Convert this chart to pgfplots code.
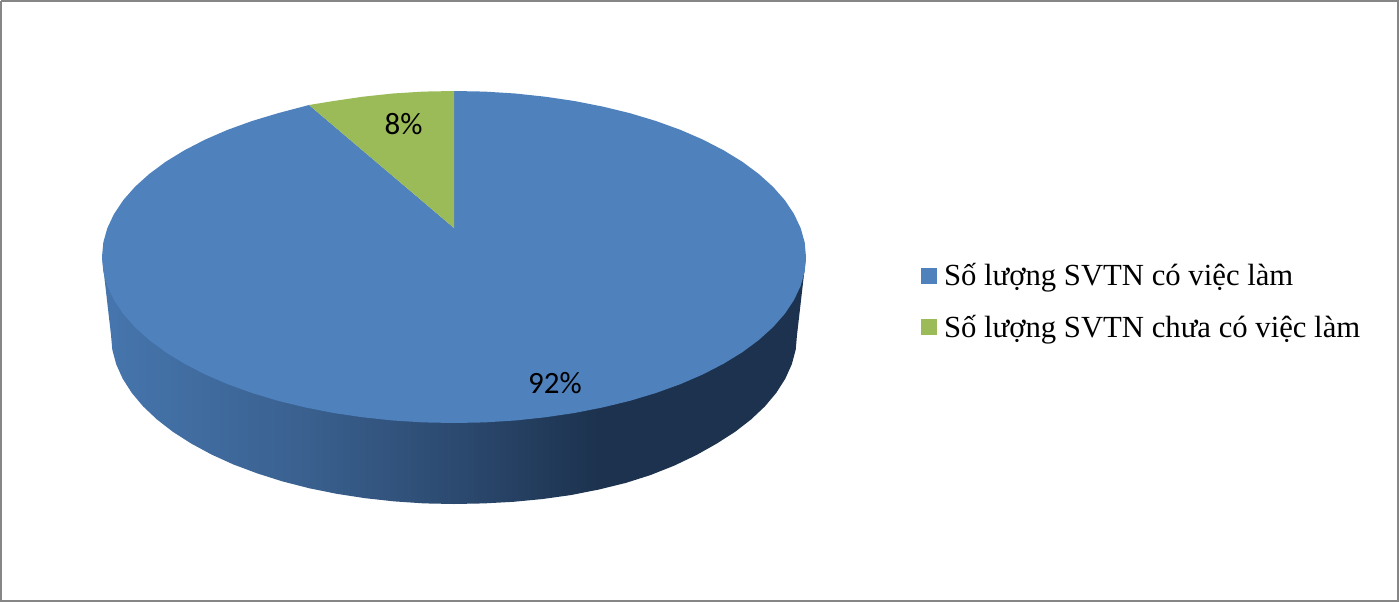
\documentclass[border=0pt]{standalone}
\usepackage{pgfplots}
\pgfplotsset{compat=1.18}
\usepackage{fontspec}
\setmainfont{Liberation Serif}
\newfontfamily\lab{Carlito}
\definecolor{pieblue}{HTML}{4F81BD}
\definecolor{piegreen}{HTML}{9BBB59}
\definecolor{frame}{HTML}{868686}
\definecolor{sa}{HTML}{4676AE}
\definecolor{sb}{HTML}{3A6190}
\definecolor{sc}{HTML}{2C4A70}
\definecolor{sd}{HTML}{1C324E}
\pgfdeclarehorizontalshading{sideshade}{100bp}{color(0bp)=(sa); color(25bp)=(sa); color(39bp)=(sb); color(50bp)=(sc); color(60.4bp)=(sd); color(100bp)=(sd)}
\begin{document}
\begin{tikzpicture}
\begin{axis}[
  width=1399pt, height=602pt, scale only axis,
  xmin=0, xmax=1399, ymin=0, ymax=602, y dir=reverse,
  hide axis, clip=false,
  legend cell align=left,
  legend image code/.code={\fill[#1] (0pt,-7.5pt) rectangle (15pt,7.5pt);},
  legend style={at={(axis cs:921,263.5)}, anchor=north west, draw=none, fill=none,
    font=\fontsize{30.7}{33}\selectfont, row sep=27.5pt, inner sep=0pt, inner xsep=0pt,
    nodes={inner sep=0pt}},
]
% frame
\addplot[draw=frame, line width=2pt, forget plot] coordinates {(1,1) (1398,1) (1398,601) (1,601) (1,1)};
% side wall
\addplot[draw=none, shading=sideshade, forget plot] coordinates {
(806,257) (797,335) (795.7,349.7) (791.8,364.3) (785.3,378.7) (776.3,392.8) (764.9,406.4) (751,419.5) (735,431.9) (716.7,443.6) (696.5,455) (674.5,465.5) (650.7,475) (625.5,483) (599,489.5) (571.3,495) (542.8,499) (513.5,501.8) (483.9,503.4) (454,504)
(424.1,503.4) (394.5,501.4) (365.2,498.2) (336.7,493.8) (309,488.2) (282.5,481.4) (257.3,473.4) (233.5,464.5) (211.5,454.5) (191.3,443.6) (173,431.9) (157,419.5) (143.1,406.4) (131.7,392.8) (122.7,378.7) (116.2,364.3) (112.3,349.7) (111,335) (102,257) (454,257) (806,257)};
% blue top
\addplot[draw=none, fill=pieblue, forget plot] coordinates {
(454,228) (454,91) (484.7,91.6) (515.1,93.5) (545.1,96.7) (574.4,101) (602.8,106.6) (630,113.2) (655.9,121) (680.3,129.8) (702.9,139.6) (723.6,150.3) (742.4,161.8) (758.8,174) (773,186.8) (784.8,200.2) (794,214) (800.7,228.2) (804.7,242.5)
(806,257) (804.7,271.5) (800.7,285.8) (794,300) (784.8,313.8) (773,327.2) (758.8,340) (742.4,352.2) (723.6,363.7) (702.9,374.4) (680.3,384.2) (655.9,393) (630,400.8) (602.8,407.4) (574.4,413) (545.1,417.3) (515.1,420.5) (484.7,422.4) (454,423)
(423.3,422.4) (392.9,420.5) (362.9,417.3) (333.6,413) (305.2,407.4) (278,400.8) (252.1,393) (227.7,384.2) (205.1,374.4) (184.4,363.7) (165.6,352.2) (149.2,340) (135,327.2) (123.2,313.8) (114,300) (107.3,285.8) (103.3,271.5)
(102,257) (103.3,242.5) (107.3,228.2) (114,214) (123.2,200.2) (135,186.8) (149.2,174) (165.6,161.8) (184.4,150.3) (205.1,139.6) (227.7,129.8) (252.1,121) (278,113.2) (309,105) (454,228)};
% green top
\addplot[draw=none, fill=piegreen, forget plot] coordinates {
(454,228) (309,105) (333.6,101) (362.9,96.7) (392.9,93.5) (423.3,91.6) (454,91) (454,228)};
\node[font=\lab\fontsize{31}{31}\selectfont] at (axis cs:403.5,124.5) {8\%};
\node[font=\lab\fontsize{31}{31}\selectfont] at (axis cs:555,383.5) {92\%};
\addlegendimage{pieblue}
\addlegendentry{\hspace{7.5pt}Số lượng SVTN có việc làm}
\addlegendimage{piegreen}
\addlegendentry{\hspace{7.5pt}Số lượng SVTN chưa có việc làm}
\end{axis}
\end{tikzpicture}
\end{document}
